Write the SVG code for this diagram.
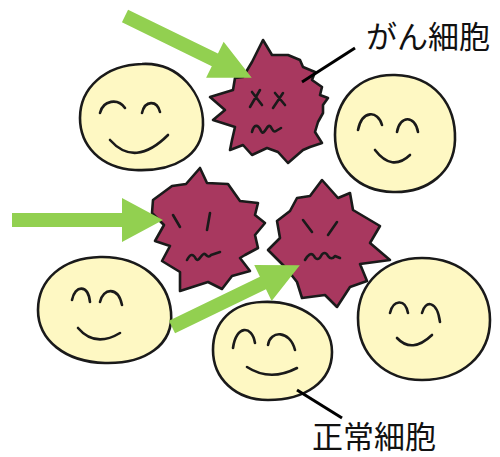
<svg xmlns="http://www.w3.org/2000/svg" width="500" height="457" viewBox="0 0 500 457">
  <style>
    .normal { fill: #FEF8C3; stroke: #1a1a1a; stroke-width: 2.6; stroke-linejoin: round; }
    .cancer { fill: #A8385F; stroke: #1a1a1a; stroke-width: 2.6; stroke-linejoin: round; }
    .face { fill: none; stroke: #1a1a1a; stroke-width: 2.6; stroke-linecap: round; stroke-linejoin: round; }
    .arrow { fill: #92D050; stroke: none; }
    .leader { stroke: #000; stroke-width: 3; fill: none; }
    .label { font-family: "Noto Sans CJK JP", "Noto Sans", sans-serif; font-size: 31px; fill: #111; }
  </style>

  <!-- healthy cells -->
  <g id="normal-1">
    <path class="normal" d="M142,64 C180,62 204,95 203,125 C202,155 175,172 135,170 C100,168 80,145 80,118 C80,88 105,65 142,64 Z"/>
    <path class="face" d="M100,113 C103,100 118,98 125,108 M142,113 C145,100 157,100 160,112 M110,140 Q135,168 168,135"/>
  </g>
  <g id="normal-2">
    <path class="normal" d="M395,75 C435,76 456,105 455,140 C454,172 428,193 393,192 C358,191 335,168 335,135 C335,100 358,74 395,75 Z"/>
    <path class="face" d="M358,130 C362,110 378,110 382,125 M397,132 C400,115 415,115 418,132 M375,150 Q392,172 410,155"/>
  </g>
  <g id="normal-3">
    <path class="normal" d="M100,257 C140,256 168,280 171,312 C174,345 145,364 105,363 C65,362 38,340 38,310 C38,280 62,258 100,257 Z"/>
    <path class="face" d="M72,300 C75,285 88,284 90,302 M100,302 C103,288 118,286 122,305 M78,328 Q95,348 120,333"/>
  </g>
  <g id="normal-4">
    <path class="normal" d="M262,302 C300,300 332,322 332,352 C332,382 305,400 268,400 C235,400 213,378 213,350 C213,322 232,303 262,302 Z"/>
    <path class="face" d="M233,348 C236,325 252,325 255,343 M268,345 C270,330 290,330 295,350 M247,367 Q270,382 297,368"/>
  </g>
  <g id="normal-5">
    <path class="normal" d="M422,258 C462,258 490,285 490,320 C490,355 462,380 422,380 C385,380 358,355 358,318 C358,283 385,258 422,258 Z"/>
    <path class="face" d="M390,313 C393,300 405,298 408,313 M422,313 C425,300 437,300 440,322 M397,338 Q412,354 432,335"/>
  </g>

  <!-- cancer cells -->
  <g id="cancer-1">
    <path class="cancer" d="M263,40 L272,55 L288,55 L300,60 L303,67 L315,72 L312,80 L322,87 L320,95 L328,98 L323,105 L323,113 L318,122 L315,132 L322,143 L310,147 L303,150 L288,163 L278,152 L267,148 L252,155 L243,145 L230,150 L232,140 L235,127 L213,120 L225,110 L210,97 L233,90 L235,78 L243,77 L252,62 Z"/>
    <path class="face" d="M252,92 L262,105 M260,90 L250,107 M275,93 L285,105 M283,93 L273,108 M252,132 C254,124 258,124 261,131 C264,137 267,124 270,126 C272,128 273,133 276,131 L281,128"/>
  </g>
  <g id="cancer-2">
    <path class="cancer" d="M200,168 L207,183 L228,184 L240,201 L258,203 L255,215 L265,223 L255,235 L258,248 L245,255 L240,258 L250,271 L232,276 L222,289 L208,282 L180,291 L180,272 L162,261 L170,246 L155,241 L164,225 L152,213 L153,200 L172,186 L186,184 Z"/>
    <path class="face" d="M173,215 L180,227 M210,213 L207,230 M187,260 C190,254 193,253 196,259 C199,263 202,252 205,254 C207,256 209,258 211,255 L220,252"/>
  </g>
  <g id="cancer-3">
    <path class="cancer" d="M322,180 L338,198 L350,193 L353,210 L380,226 L370,243 L390,260 L360,264 L367,281 L350,287 L337,307 L325,295 L302,298 L297,282 L286,268 L268,250 L280,238 L277,221 L290,211 L297,198 L310,196 Z"/>
    <path class="face" d="M303,220 L312,232 M337,222 L328,235 M305,260 C308,255 311,252 314,256 C316,260 319,260 321,256 C323,252 326,252 328,256 C330,259 333,259 335,256 L340,258"/>
  </g>

  <!-- arrows and leader lines -->
  <g id="connectors">
    <path class="arrow" transform="translate(125,16) rotate(26)" d="M0,-7 H100 V-20 L141,0 L100,20 V7 H0 Z"/>
    <path class="arrow" transform="translate(12,220)" d="M0,-7 H110 V-22 L151,0 L110,22 V7 H0 Z"/>
    <path class="arrow" transform="translate(172,327) rotate(-25.8)" d="M0,-7 H101 V-20 L142,0 L101,20 V7 H0 Z"/>
    <line class="leader" x1="355" y1="48" x2="302" y2="82"/>
    <line class="leader" x1="297" y1="390" x2="342" y2="418"/>
  </g>

  <!-- labels -->
  <g id="labels">
    <text class="label" x="366" y="48">がん細胞</text>
    <text class="label" x="312" y="448">正常細胞</text>
  </g>
</svg>
